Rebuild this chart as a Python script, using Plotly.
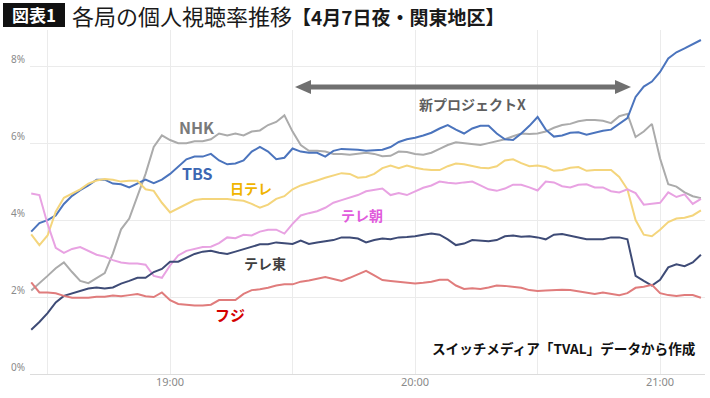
import pandas as pd
import plotly.graph_objects as go

# ---------------- data (readings every 2 minutes, 18:26 - 21:10) ----------------
START = "2024-04-07 18:26"
END = "2024-04-07 21:10"
TIMES = pd.date_range(START, END, freq="2min")

NHK = [2.17, 2.35, 2.55, 2.75, 2.9, 2.65, 2.42, 2.36, 2.5, 2.62,
       3.13, 3.76, 4.04, 4.6, 5.2, 5.9, 6.2, 6.08, 6.0, 6.0,
       6.05, 6.05, 6.1, 6.25, 6.2, 6.25, 6.2, 6.3, 6.33, 6.47,
       6.55, 6.72, 6.3, 5.95, 5.8, 5.8, 5.78, 5.72, 5.72, 5.7,
       5.73, 5.75, 5.72, 5.66, 5.67, 5.78, 5.77, 5.72, 5.7, 5.75,
       5.85, 5.95, 6.02, 6.0, 5.98, 5.95, 6.0, 6.05, 6.1, 6.18,
       6.25, 6.24, 6.25, 6.3, 6.4, 6.47, 6.5, 6.57, 6.6, 6.6,
       6.58, 6.52, 6.7, 6.76, 6.16, 6.3, 6.5, 5.6, 4.93, 4.87,
       4.72, 4.62, 4.57]

TBS = [3.7, 3.92, 4.0, 4.12, 4.42, 4.63, 4.78, 4.9, 5.05, 5.05,
       4.95, 4.93, 4.85, 4.95, 5.05, 4.96, 5.05, 5.2, 5.4, 5.58,
       5.65, 5.65, 5.72, 5.55, 5.45, 5.47, 5.55, 5.78, 5.9, 5.78,
       5.58, 5.62, 5.86, 5.78, 5.75, 5.75, 5.65, 5.8, 5.85, 5.84,
       5.83, 5.8, 5.82, 5.83, 5.9, 6.03, 6.1, 6.14, 6.2, 6.27,
       6.38, 6.47, 6.35, 6.25, 6.38, 6.45, 6.45, 6.25, 6.1, 6.08,
       6.25, 6.45, 6.68, 6.35, 6.17, 6.2, 6.27, 6.28, 6.22, 6.28,
       6.32, 6.35, 6.5, 6.65, 7.2, 7.47, 7.6, 7.85, 8.2, 8.36,
       8.46, 8.56, 8.68]

NTV = [3.63, 3.35, 3.6, 4.22, 4.58, 4.69, 4.8, 4.95, 5.03, 5.07,
       5.05, 5.0, 5.02, 5.02, 4.8, 4.76, 4.45, 4.2, 4.3, 4.4,
       4.52, 4.55, 4.55, 4.55, 4.55, 4.52, 4.5, 4.42, 4.32, 4.4,
       4.55, 4.62, 4.8, 4.9, 4.96, 5.03, 5.1, 5.16, 5.22, 5.2,
       5.1, 5.12, 5.2, 5.35, 5.42, 5.35, 5.42, 5.36, 5.32, 5.3,
       5.3, 5.4, 5.47, 5.45, 5.4, 5.36, 5.35, 5.4, 5.55, 5.58,
       5.48, 5.4, 5.42, 5.38, 5.28, 5.3, 5.36, 5.38, 5.28, 5.3,
       5.3, 5.3, 5.12, 4.8, 4.0, 3.62, 3.58, 3.75, 3.95, 4.04,
       4.06, 4.12, 4.25]

EX = [4.69, 4.65, 3.9, 3.28, 3.15, 3.25, 3.3, 3.2, 3.1, 3.05,
      2.96, 2.9, 2.87, 2.87, 2.84, 2.55, 2.5, 2.82, 3.08, 3.2,
      3.25, 3.3, 3.31, 3.4, 3.55, 3.53, 3.62, 3.6, 3.7, 3.75,
      3.75, 3.65, 3.9, 4.12, 4.18, 4.23, 4.32, 4.45, 4.52, 4.58,
      4.65, 4.75, 4.78, 4.82, 4.65, 4.7, 4.65, 4.75, 4.84, 4.9,
      5.0, 4.97, 4.95, 4.98, 5.0, 4.9, 4.8, 4.76, 4.82, 4.92,
      4.92, 4.85, 4.77, 5.0, 4.98, 4.88, 4.85, 4.92, 4.93, 4.85,
      4.85, 4.75, 4.72, 4.8, 4.7, 4.4, 4.42, 4.45, 4.72, 4.6,
      4.67, 4.42, 4.55]

TX = [1.15, 1.35, 1.58, 1.86, 2.03, 2.1, 2.17, 2.22, 2.25, 2.22,
      2.25, 2.35, 2.42, 2.5, 2.5, 2.65, 2.73, 2.92, 2.92, 3.02,
      3.12, 3.18, 3.2, 3.15, 3.12, 3.18, 3.24, 3.3, 3.37, 3.37,
      3.42, 3.4, 3.38, 3.47, 3.38, 3.42, 3.45, 3.48, 3.55, 3.55,
      3.52, 3.42, 3.48, 3.52, 3.5, 3.55, 3.56, 3.58, 3.62, 3.65,
      3.62, 3.5, 3.35, 3.39, 3.48, 3.46, 3.45, 3.48, 3.58, 3.6,
      3.57, 3.58, 3.55, 3.5, 3.62, 3.64, 3.6, 3.55, 3.5, 3.5,
      3.5, 3.55, 3.55, 3.5, 2.55, 2.42, 2.3, 2.45, 2.77, 2.85,
      2.8, 2.9, 3.1]

CX = [2.38, 2.12, 2.12, 2.1, 2.03, 1.98, 1.98, 1.98, 2.01, 2.01,
      2.04, 2.02, 2.05, 2.08, 2.02, 2.0, 2.12, 1.92, 1.82, 1.8,
      1.78, 1.78, 1.8, 1.92, 1.92, 1.92, 2.08, 2.18, 2.2, 2.24,
      2.3, 2.33, 2.33, 2.4, 2.43, 2.48, 2.52, 2.47, 2.42, 2.5,
      2.6, 2.68, 2.56, 2.44, 2.42, 2.4, 2.37, 2.35, 2.37, 2.4,
      2.45, 2.45, 2.3, 2.21, 2.23, 2.21, 2.25, 2.3, 2.29, 2.27,
      2.24, 2.18, 2.16, 2.17, 2.18, 2.19, 2.18, 2.15, 2.12, 2.08,
      2.12, 2.08, 2.05, 2.1, 2.24, 2.27, 2.32, 2.1, 2.05, 2.03,
      2.05, 2.05, 1.98]

STATIONS = ["NHK", "TBS", "日テレ", "テレ朝", "テレ東", "フジ"]
VALUES = [NHK, TBS, NTV, EX, TX, CX]
LINE_COLORS = ["#ababab", "#4b74bd", "#f4d57c", "#e8a2e2", "#3e4b76", "#e07c7c"]
LABEL_COLORS = ["#7a7a7a", "#3c67b3", "#f0b400", "#e15bdc", "#3f3f3f", "#d40000"]

X_TICKS = ["2024-04-07 18:30", "2024-04-07 19:00", "2024-04-07 19:30",
           "2024-04-07 20:00", "2024-04-07 20:30", "2024-04-07 21:00"]
X_TICK_LABELS = ["", "19:00", "", "20:00", "", "21:00"]
Y_TICKS = [0, 2, 4, 6, 8]
Y_TICK_LABELS = ["0%", "2%", "4%", "6%", "8%"]

TITLE_TAG = "図表1"
TITLE = "各局の個人視聴率推移"
SUBTITLE = "【4月7日夜・関東地区】"
PROGRAM = "新プロジェクトX"
SOURCE = "スイッチメディア「TVAL」データから作成"

# ---------------- layout helpers (pixel -> paper) ----------------
W, H = 710, 398
L, R, T, B = 30, 5, 30, 24
PW, PH = W - L - R, H - T - B


def px(x):
    return (x - L) / PW


def py(y):
    return (H - B - y) / PH


FONT = "Noto Sans CJK JP"

fig = go.Figure()
for name, vals, color in zip(STATIONS, VALUES, LINE_COLORS):
    fig.add_trace(go.Scatter(x=TIMES, y=vals, mode="lines", name=name,
                             line=dict(color=color, width=2),
                             showlegend=False, hoverinfo="skip"))

annotations = []
label_pos = {"NHK": (197, 127, 16), "TBS": (197, 173, 16), "日テレ": (251, 188, 14),
             "テレ朝": (362, 215, 14), "テレ東": (265, 263, 14), "フジ": (230, 314, 15)}
for name, col in zip(STATIONS, LABEL_COLORS):
    x, y, s = label_pos[name]
    annotations.append(dict(x=px(x), y=py(y), xref="paper", yref="paper",
                            text=f"<b>{name}</b>", showarrow=False,
                            font=dict(family=FONT, size=s, color=col),
                            xanchor="center", yanchor="middle"))

annotations.append(dict(x=px(472), y=py(104), xref="paper", yref="paper",
                        text=f"<b>{PROGRAM}</b>", showarrow=False,
                        font=dict(family=FONT, size=14, color="#5f5f5f"),
                        xanchor="center", yanchor="middle"))
annotations.append(dict(x=px(698), y=py(348), xref="paper", yref="paper",
                        text=f"<b>{SOURCE}</b>", showarrow=False,
                        font=dict(family=FONT, size=13.6, color="#111111"),
                        xanchor="right", yanchor="middle"))
annotations.append(dict(x=px(34), y=py(15), xref="paper", yref="paper",
                        text=f"<b>{TITLE_TAG}</b>", showarrow=False,
                        font=dict(family=FONT, size=17, color="#ffffff"),
                        xanchor="center", yanchor="middle"))
annotations.append(dict(x=px(70), y=py(15), xref="paper", yref="paper",
                        text=f"{TITLE}<b><span style='font-size:19px'>{SUBTITLE}</span></b>",
                        showarrow=False,
                        font=dict(family=FONT, size=22, color="#1a1a1a"),
                        xanchor="left", yanchor="middle"))

shapes = [
    dict(type="rect", xref="paper", yref="paper", x0=px(3), x1=px(65), y0=py(27), y1=py(3),
         fillcolor="#111111", line=dict(width=0), layer="above"),
    dict(type="line", xref="paper", yref="paper", x0=px(308), x1=px(618), y0=py(87), y1=py(87),
         line=dict(color="#707070", width=5), layer="above"),
    dict(type="path", xref="paper", yref="paper",
         path=f"M{px(295)},{py(87)} L{px(311)},{py(80)} L{px(311)},{py(94)} Z",
         fillcolor="#707070", line=dict(width=0), layer="above"),
    dict(type="path", xref="paper", yref="paper",
         path=f"M{px(631)},{py(87)} L{px(615)},{py(80)} L{px(615)},{py(94)} Z",
         fillcolor="#707070", line=dict(width=0), layer="above"),
]

fig.update_layout(
    width=W, height=H,
    margin=dict(l=L, r=R, t=T, b=B, autoexpand=False),
    paper_bgcolor="white", plot_bgcolor="white",
    font=dict(family=FONT),
    annotations=annotations, shapes=shapes,
    xaxis=dict(range=["2024-04-07 18:25:42", "2024-04-07 21:11:00"],
               tickvals=X_TICKS, ticktext=X_TICK_LABELS, automargin=False,
               showgrid=True, gridcolor="#ebebeb", gridwidth=1,
               zeroline=False, showline=False, ticks="",
               tickfont=dict(family="Noto Sans", size=11, color="#8a8a8a")),
    yaxis=dict(range=[0, 8.94], tickvals=Y_TICKS, ticktext=Y_TICK_LABELS,
               automargin=False,
               showgrid=True, gridcolor="#ebebeb", gridwidth=1,
               zeroline=True, zerolinecolor="#dcdcdc", zerolinewidth=1,
               showline=False, ticks="",
               ticklabelposition="outside top", ticklabelstandoff=4,
               tickfont=dict(family="Noto Sans", size=10, color="#8a8a8a")),
)

# the page body has a default 8px margin; remove it so the figure sits at the window origin
fig.write_html("out.html",
               config={"displayModeBar": False, "staticPlot": True},
               post_script="document.body.style.margin='0';document.body.style.overflow='hidden';")
